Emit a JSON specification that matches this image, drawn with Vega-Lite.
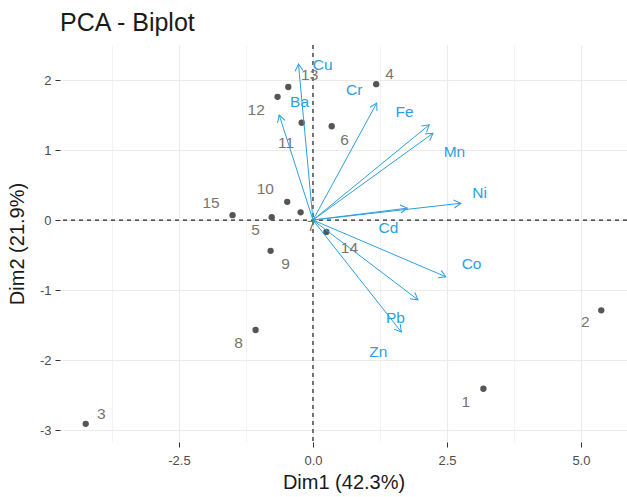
{
  "$schema": "https://vega.github.io/schema/vega-lite/v6.json",
  "width": 567,
  "height": 397,
  "autosize": {"type": "none"},
  "padding": {"left": 60, "top": 45, "right": 0, "bottom": 55},
  "background": "white",
  "config": {
    "view": {"stroke": null},
    "font": "Liberation Sans",
    "axis": {
      "domain": false,
      "tickColor": "#333333",
      "tickSize": 5,
      "labelColor": "#4D4D4D",
      "labelFontSize": 13,
      "labelFont": "Liberation Sans",
      "gridColor": "#EBEBEB",
      "titleFont": "Liberation Sans",
      "titleFontSize": 20,
      "titleFontWeight": "normal",
      "titleColor": "#1a1a1a"
    }
  },
  "title": {
    "text": "PCA - Biplot",
    "anchor": "start",
    "frame": "group",
    "fontSize": 25,
    "fontWeight": "normal",
    "font": "Liberation Sans",
    "color": "#1a1a1a",
    "offset": 8
  },
  "datasets": {
    "ind": [
      {"id": "1", "x": 3.18, "y": -2.41, "lx": 2.85, "ly": -2.60},
      {"id": "2", "x": 5.38, "y": -1.29, "lx": 5.08, "ly": -1.46},
      {"id": "3", "x": -4.24, "y": -2.91, "lx": -3.95, "ly": -2.77},
      {"id": "4", "x": 1.18, "y": 1.94, "lx": 1.43, "ly": 2.09},
      {"id": "5", "x": -0.77, "y": 0.04, "lx": -1.07, "ly": -0.14},
      {"id": "6", "x": 0.35, "y": 1.34, "lx": 0.59, "ly": 1.14},
      {"id": "7", "x": -0.23, "y": 0.11, "lx": -0.03, "ly": -0.08},
      {"id": "8", "x": -1.07, "y": -1.57, "lx": -1.39, "ly": -1.76},
      {"id": "9", "x": -0.79, "y": -0.44, "lx": -0.51, "ly": -0.63},
      {"id": "10", "x": -0.48, "y": 0.26, "lx": -0.89, "ly": 0.44},
      {"id": "11", "x": -0.21, "y": 1.39, "lx": -0.50, "ly": 1.10},
      {"id": "12", "x": -0.66, "y": 1.76, "lx": -1.06, "ly": 1.57},
      {"id": "13", "x": -0.46, "y": 1.90, "lx": -0.06, "ly": 2.07},
      {"id": "14", "x": 0.25, "y": -0.17, "lx": 0.68, "ly": -0.40},
      {"id": "15", "x": -1.50, "y": 0.07, "lx": -1.90, "ly": 0.24}
    ],
    "var": [
      {"name": "Cu", "x": -0.27, "y": 2.23, "lx": 0.18, "ly": 2.21},
      {"name": "Ba", "x": -0.63, "y": 1.50, "lx": -0.25, "ly": 1.69},
      {"name": "Cr", "x": 1.19, "y": 1.67, "lx": 0.77, "ly": 1.86},
      {"name": "Fe", "x": 2.17, "y": 1.36, "lx": 1.71, "ly": 1.54},
      {"name": "Mn", "x": 2.24, "y": 1.24, "lx": 2.64, "ly": 0.97},
      {"name": "Ni", "x": 2.76, "y": 0.24, "lx": 3.11, "ly": 0.39},
      {"name": "Cd", "x": 1.76, "y": 0.17, "lx": 1.41, "ly": -0.11},
      {"name": "Co", "x": 2.48, "y": -0.81, "lx": 2.96, "ly": -0.63},
      {"name": "Pb", "x": 1.96, "y": -1.14, "lx": 1.54, "ly": -1.40},
      {"name": "Zn", "x": 1.65, "y": -1.60, "lx": 1.22, "ly": -1.89}
    ],
    "zero": [{"v": 0}]
  },
  "layer": [
    {
      "data": {"name": "ind"},
      "mark": {"type": "point", "opacity": 0},
      "encoding": {
        "x": {
          "field": "x", "type": "quantitative",
          "scale": {"domain": [-4.72, 5.86], "nice": false, "zero": false},
          "axis": {
            "title": "Dim1 (42.3%)",
            "values": [-3.75, -2.5, -1.25, 0, 1.25, 2.5, 3.75, 5],
            "labelExpr": "datum.value === 0 ? '0.0' : datum.value === 5 ? '5.0' : datum.value === 2.5 ? '2.5' : datum.value === -2.5 ? '-2.5' : ''",
            "tickColor": {"condition": {"test": "abs(datum.value % 2.5) < 0.001", "value": "#333333"}, "value": "transparent"},
            "gridWidth": {"condition": {"test": "abs(datum.value % 2.5) < 0.001", "value": 1.1}, "value": 0.6},
            "labelPadding": 7,
            "titlePadding": 5
          }
        },
        "y": {
          "field": "y", "type": "quantitative",
          "scale": {"domain": [-3.17, 2.5], "nice": false, "zero": false},
          "axis": {
            "title": "Dim2 (21.9%)",
            "values": [-3, -2.5, -2, -1.5, -1, -0.5, 0, 0.5, 1, 1.5, 2, 2.5],
            "labelExpr": "abs(datum.value % 1) < 0.001 ? '' + datum.value : ''",
            "tickColor": {"condition": {"test": "abs(datum.value % 1) < 0.001", "value": "#333333"}, "value": "transparent"},
            "gridWidth": {"condition": {"test": "abs(datum.value % 1) < 0.001", "value": 1.1}, "value": 0.6},
            "labelPadding": 4,
            "titlePadding": 12
          }
        }
      }
    },
    {
      "data": {"name": "zero"},
      "mark": {"type": "rule", "color": "#222222", "strokeDash": [4, 4], "strokeWidth": 1.2},
      "encoding": {"x": {"field": "v", "type": "quantitative"}}
    },
    {
      "data": {"name": "zero"},
      "mark": {"type": "rule", "color": "#222222", "strokeDash": [4, 4], "strokeWidth": 1.2},
      "encoding": {"y": {"field": "v", "type": "quantitative"}}
    },
    {
      "data": {"name": "ind"},
      "mark": {"type": "circle", "color": "#555555", "opacity": 1, "size": 40},
      "encoding": {
        "x": {"field": "x", "type": "quantitative"},
        "y": {"field": "y", "type": "quantitative"}
      }
    },
    {
      "data": {"name": "ind"},
      "mark": {"type": "text", "color": "#7a746c", "fontSize": 15.5, "font": "Liberation Sans", "align": "center", "baseline": "middle"},
      "encoding": {
        "x": {"field": "lx", "type": "quantitative"},
        "y": {"field": "ly", "type": "quantitative"},
        "text": {"field": "id"}
      }
    },
    {
      "data": {"name": "var"},
      "mark": {"type": "rule", "color": "#2E9FDF", "strokeWidth": 1},
      "encoding": {
        "x": {"field": "x", "type": "quantitative"},
        "y": {"field": "y", "type": "quantitative"},
        "x2": {"datum": 0},
        "y2": {"datum": 0}
      }
    },
    {
      "data": {"name": "var"},
      "transform": [
        {"calculate": "atan2(-datum.y * 70.0, datum.x * 53.6) * 180 / PI", "as": "ang"}
      ],
      "mark": {"type": "point", "shape": "M-0.866,-0.5L0,0L-0.866,0.5", "filled": false, "stroke": "#2E9FDF", "strokeWidth": 1, "size": 256, "opacity": 1},
      "encoding": {
        "x": {"field": "x", "type": "quantitative"},
        "y": {"field": "y", "type": "quantitative"},
        "angle": {"field": "ang", "type": "quantitative", "scale": null}
      }
    },
    {
      "data": {"name": "var"},
      "mark": {"type": "text", "color": "#2E9FDF", "fontSize": 15.5, "font": "Liberation Sans", "align": "center", "baseline": "middle"},
      "encoding": {
        "x": {"field": "lx", "type": "quantitative"},
        "y": {"field": "ly", "type": "quantitative"},
        "text": {"field": "name"}
      }
    }
  ]
}
